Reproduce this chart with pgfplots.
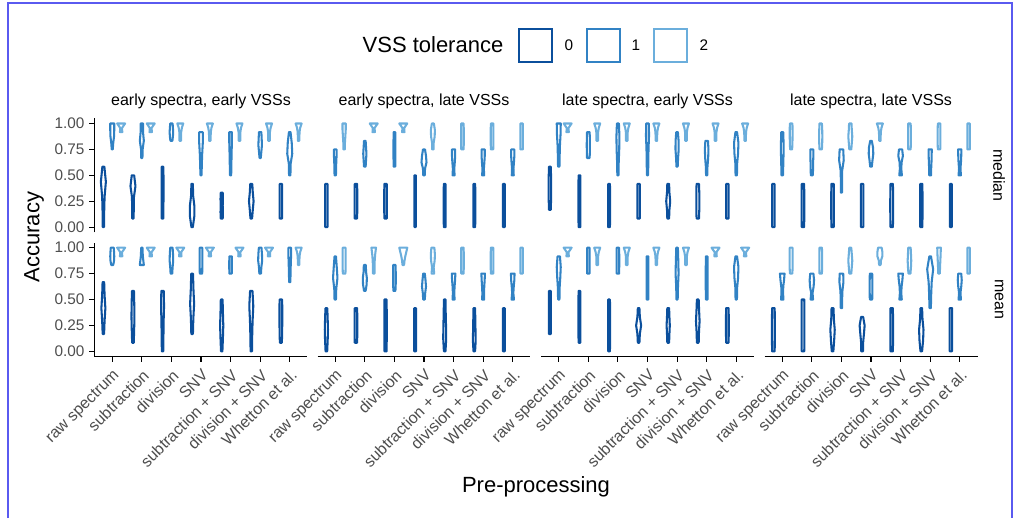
\documentclass[border=0pt]{standalone}
\usepackage{pgfplots}
\pgfplotsset{compat=1.18}
\usepackage{fontspec}
\setmainfont{Liberation Sans}
\definecolor{cz}{HTML}{0B4F9C}
\definecolor{co}{HTML}{3182C4}
\definecolor{ct}{HTML}{6BAEDC}
\definecolor{tickgray}{HTML}{4D4D4D}
\definecolor{framecol}{HTML}{5A5AF0}

\pgfplotsset{
  vio0/.style={draw=cz, fill=white, line width=1.55pt, line join=round, line cap=round},
  vio1/.style={draw=co, fill=white, line width=1.55pt, line join=round, line cap=round},
  vio2/.style={draw=ct, fill=white, line width=1.55pt, line join=round, line cap=round},
  panel/.style={
    scale only axis, width=159.75pt, height=85.5pt,
    anchor=north west,
    xmin=0.4, xmax=7.6, ymin=-0.05, ymax=1.05,
    axis x line*=bottom, axis y line*=left,
    axis line style={line width=0.9pt, black},
    tick align=outside, major tick length=4pt,
    tick style={line width=0.8pt, black},
    xtick={1,2,3,4,5,6,7}, ytick={0,0.25,0.5,0.75,1},
    clip=false,
    /pgf/number format/assume math mode=true,
    tick label style={font=\fontsize{11.5}{13}\selectfont, text=tickgray},
    yticklabel style={/pgf/number format/fixed, /pgf/number format/fixed zerofill, /pgf/number format/precision=2},
  },
  toprow/.style={x axis line style={draw=none}, xtick=\empty},
  bottomrow/.style={xticklabels={raw spectrum, subtraction, division, SNV, subtraction + SNV, division + SNV, Whetton et al.},
    xticklabel style={rotate=45, anchor=north east, font=\fontsize{12}{13}\selectfont}},
  othercol/.style={y axis line style={draw=none}, ytick=\empty},
}

% violin: tolerance, category, ymin, ymax, five half-widths (px) at evenly spaced levels
\newcommand{\vio}[9]{%
  \pgfmathsetmacro\vX{#2+(#1-1)*0.3}%
  \pgfmathsetmacro\vD{(#4-#3)/4}%
  \pgfmathsetmacro\vYa{#3}%
  \pgfmathsetmacro\vYb{#3+\vD}%
  \pgfmathsetmacro\vYc{#3+2*\vD}%
  \pgfmathsetmacro\vYd{#3+3*\vD}%
  \pgfmathsetmacro\vYe{#4}%
  \pgfmathsetmacro\xLa{\vX-#5/29.6}\pgfmathsetmacro\xRa{\vX+#5/29.6}%
  \pgfmathsetmacro\xLb{\vX-#6/29.6}\pgfmathsetmacro\xRb{\vX+#6/29.6}%
  \pgfmathsetmacro\xLc{\vX-#7/29.6}\pgfmathsetmacro\xRc{\vX+#7/29.6}%
  \pgfmathsetmacro\xLd{\vX-#8/29.6}\pgfmathsetmacro\xRd{\vX+#8/29.6}%
  \pgfmathsetmacro\xLe{\vX-#9/29.6}\pgfmathsetmacro\xRe{\vX+#9/29.6}%
  \edef\vtmp{\noexpand\addplot[vio#1] coordinates {(\xLa,\vYa) (\xLb,\vYb) (\xLc,\vYc) (\xLd,\vYd) (\xLe,\vYe) (\xRe,\vYe) (\xRd,\vYd) (\xRc,\vYc) (\xRb,\vYb) (\xRa,\vYa)} -- cycle;}%
  \vtmp}
\newcommand{\Fa}[2]{\vio{#1}{#2}{.917}{1}{1.2}{1.0}{1.0}{2.5}{4.0}}
\newcommand{\Fb}[2]{\vio{#1}{#2}{.833}{1}{0.8}{0.8}{0.9}{1.6}{3.0}}

\def\cA{94.5}\def\cB{317.5}\def\cC{541}\def\cD{764.5}
\def\rA{118.3}\def\rB{242.5}

\begin{document}
\begin{tikzpicture}
\begin{scope}[x=0.75pt,y=-0.75pt]
\useasboundingbox (0,0) rectangle (1016,518);
\draw[framecol, line width=0.8pt] (8,518) -- (8,3) -- (1012,3) -- (1012,518);
\node[anchor=east, font=\fontsize{16.5}{18}\selectfont] at (508,45) {VSS tolerance};
\draw[cz, line width=1.5pt, fill=white] (519,28.5) rectangle (552,61.5);
\draw[co, line width=1.5pt, fill=white] (587,28.5) rectangle (620,61.5);
\draw[ct, line width=1.5pt, fill=white] (654,28.5) rectangle (687,61.5);
\node[font=\fontsize{11.5}{13}\selectfont] at (569,45) {0};
\node[font=\fontsize{11.5}{13}\selectfont] at (636,45) {1};
\node[font=\fontsize{11.5}{13}\selectfont] at (704,45) {2};
\node[font=\fontsize{12}{13}\selectfont] at (201,101) {early spectra, early VSSs};
\node[font=\fontsize{12}{13}\selectfont] at (424,101) {early spectra, late VSSs};
\node[font=\fontsize{12}{13}\selectfont] at (647.5,101) {late spectra, early VSSs};
\node[font=\fontsize{12}{13}\selectfont] at (871,101) {late spectra, late VSSs};
\node[font=\fontsize{12}{13}\selectfont, rotate=-90] at (999,175.4) {median};
\node[font=\fontsize{12}{13}\selectfont, rotate=-90] at (999,299.6) {mean};
\node[font=\fontsize{16.5}{18}\selectfont, rotate=90] at (34,237) {Accuracy};
\node[font=\fontsize{16.5}{18}\selectfont] at (536,487) {Pre-processing};
\end{scope}

% ---------- early spectra, early VSSs : median
\begin{axis}[panel, toprow, at={(\cA*0.75pt,-\rA*0.75pt)}]
\vio{0}{1}{0}{.583}{0.7}{0.8}{1.2}{2.5}{1.0}
\vio{1}{1}{.75}{1}{0.5}{1.0}{1.8}{2.0}{2.0}
\Fa{2}{1}
\vio{0}{2}{.083}{.5}{0.7}{0.8}{1.0}{2.5}{1.2}
\vio{1}{2}{.667}{1}{0.6}{0.8}{2.0}{1.2}{1.2}
\Fa{2}{2}
\vio{0}{3}{.083}{.583}{0.8}{0.9}{1.0}{1.0}{0.8}
\vio{1}{3}{.833}{1}{1.0}{1.5}{1.8}{1.5}{1.2}
\Fb{2}{3}
\vio{0}{4}{0}{.417}{0.7}{2.2}{2.2}{0.9}{0.8}
\vio{1}{4}{.5}{.917}{0.6}{0.8}{1.2}{1.8}{1.8}
\Fb{2}{4}
\vio{0}{5}{.083}{.333}{1.0}{1.2}{1.0}{1.2}{1.0}
\vio{1}{5}{.5}{.917}{0.6}{0.8}{1.0}{1.3}{1.3}
\Fb{2}{5}
\vio{0}{6}{.083}{.417}{0.8}{1.5}{2.3}{1.5}{1.0}
\vio{1}{6}{.667}{.917}{0.6}{1.2}{1.8}{1.5}{1.2}
\Fb{2}{6}
\vio{0}{7}{.083}{.417}{1.2}{1.3}{1.3}{1.3}{1.2}
\vio{1}{7}{.5}{.917}{0.7}{0.8}{2.5}{2.0}{0.8}
\Fb{2}{7}
\end{axis}

% ---------- early spectra, early VSSs : mean
\begin{axis}[panel, bottomrow, at={(\cA*0.75pt,-\rB*0.75pt)}]
\vio{0}{1}{.167}{.667}{0.7}{1.2}{2.0}{1.2}{0.8}
\vio{1}{1}{.833}{1}{1.0}{1.8}{2.0}{1.8}{1.5}
\Fa{2}{1}
\vio{0}{2}{.083}{.583}{0.8}{1.2}{1.5}{1.3}{1.0}
\vio{1}{2}{.833}{1}{2.0}{1.5}{1.0}{0.8}{0.7}
\Fa{2}{2}
\vio{0}{3}{0}{.583}{0.7}{0.9}{1.1}{1.5}{1.2}
\vio{1}{3}{.75}{1}{0.8}{1.2}{1.8}{1.6}{1.2}
\Fa{2}{3}
\vio{0}{4}{.167}{.75}{0.8}{1.2}{2.0}{1.3}{0.9}
\vio{1}{4}{.75}{1}{1.2}{1.3}{1.3}{1.3}{1.3}
\Fa{2}{4}
\vio{0}{5}{0}{.5}{0.7}{1.2}{1.6}{1.2}{0.9}
\vio{1}{5}{.75}{.917}{1.2}{1.3}{1.3}{1.3}{1.2}
\Fa{2}{5}
\vio{0}{6}{0}{.583}{0.7}{0.9}{1.3}{2.0}{1.2}
\vio{1}{6}{.75}{1}{0.8}{1.2}{2.0}{1.8}{1.3}
\Fa{2}{6}
\vio{0}{7}{.083}{.5}{1.0}{1.3}{1.4}{1.4}{1.3}
\vio{1}{7}{.667}{1}{0.6}{0.8}{1.0}{1.3}{1.3}
\Fb{2}{7}
\end{axis}

% ---------- early spectra, late VSSs : median
\begin{axis}[panel, toprow, othercol, at={(\cB*0.75pt,-\rA*0.75pt)}]
\vio{0}{1}{0}{.417}{1.2}{1.3}{1.3}{1.3}{1.2}
\vio{1}{1}{.5}{.75}{0.7}{0.8}{1.0}{1.3}{1.3}
\vio{2}{1}{.75}{1}{0.7}{0.8}{1.2}{1.6}{1.6}
\vio{0}{2}{.083}{.417}{1.2}{1.3}{1.3}{1.3}{1.2}
\vio{1}{2}{.583}{.833}{0.8}{1.2}{1.6}{1.2}{0.8}
\Fa{2}{2}
\vio{0}{3}{.083}{.417}{1.2}{1.3}{1.3}{1.3}{1.2}
\vio{1}{3}{.583}{.917}{0.8}{0.9}{0.9}{0.9}{0.8}
\Fa{2}{3}
\vio{0}{4}{0}{.5}{0.7}{0.8}{0.8}{0.8}{0.7}
\vio{1}{4}{.5}{.75}{0.8}{1.0}{2.5}{2.0}{1.0}
\vio{2}{4}{.75}{1}{0.8}{0.8}{1.8}{2.0}{1.0}
\vio{0}{5}{0}{.417}{0.9}{1.0}{1.0}{1.0}{0.9}
\vio{1}{5}{.5}{.75}{1.0}{0.7}{1.2}{1.6}{1.6}
\vio{2}{5}{.75}{1}{1.2}{1.3}{1.3}{1.3}{1.2}
\vio{0}{6}{0}{.417}{0.9}{1.0}{1.0}{1.0}{0.9}
\vio{1}{6}{.5}{.75}{1.0}{0.7}{1.2}{1.6}{1.6}
\vio{2}{6}{.75}{1}{1.2}{1.3}{1.3}{1.3}{1.2}
\vio{0}{7}{0}{.417}{0.9}{1.0}{1.0}{1.0}{0.9}
\vio{1}{7}{.5}{.75}{1.0}{0.7}{1.2}{1.6}{1.6}
\vio{2}{7}{.75}{1}{1.2}{1.3}{1.3}{1.3}{1.2}
\end{axis}

% ---------- early spectra, late VSSs : mean
\begin{axis}[panel, bottomrow, othercol, at={(\cB*0.75pt,-\rB*0.75pt)}]
\vio{0}{1}{0}{.417}{0.8}{1.3}{1.6}{1.3}{0.9}
\vio{1}{1}{.5}{.917}{0.7}{1.0}{2.2}{1.5}{0.7}
\vio{2}{1}{.75}{1}{1.3}{1.5}{1.5}{1.5}{1.5}
\vio{0}{2}{.083}{.417}{1.2}{1.3}{1.3}{1.3}{1.2}
\vio{1}{2}{.583}{.833}{0.8}{1.8}{2.0}{1.2}{1.0}
\vio{2}{2}{.75}{1}{0.8}{0.8}{1.0}{1.5}{2.3}
\vio{0}{3}{0}{.5}{1.1}{1.2}{1.2}{1.2}{1.1}
\vio{1}{3}{.583}{.833}{1.0}{1.3}{1.3}{1.3}{1.2}
\vio{2}{3}{.833}{1}{0.8}{1.2}{2.0}{3.0}{4.0}
\vio{0}{4}{0}{.417}{0.9}{1.0}{1.0}{1.0}{0.9}
\vio{1}{4}{.5}{.75}{0.8}{1.2}{2.0}{1.5}{0.8}
\vio{2}{4}{.75}{1}{1.3}{0.8}{1.8}{2.0}{1.5}
\vio{0}{5}{0}{.5}{0.8}{1.5}{1.3}{1.0}{0.8}
\vio{1}{5}{.5}{.75}{1.0}{0.7}{1.0}{1.5}{1.8}
\vio{2}{5}{.75}{1}{1.2}{1.3}{1.3}{1.3}{1.2}
\vio{0}{6}{0}{.417}{0.8}{1.4}{1.2}{1.0}{0.8}
\vio{1}{6}{.5}{.75}{1.0}{0.8}{1.1}{1.5}{1.8}
\vio{2}{6}{.75}{1}{1.2}{1.3}{1.3}{1.3}{1.2}
\vio{0}{7}{0}{.417}{0.9}{1.0}{1.0}{1.0}{0.9}
\vio{1}{7}{.5}{.75}{1.2}{0.6}{1.0}{1.6}{1.8}
\vio{2}{7}{.75}{1}{1.2}{1.3}{1.3}{1.3}{1.2}
\end{axis}

% ---------- late spectra, early VSSs : median
\begin{axis}[panel, toprow, othercol, at={(\cC*0.75pt,-\rA*0.75pt)}]
\vio{0}{1}{.167}{.583}{0.9}{1.2}{1.3}{1.2}{0.9}
\vio{1}{1}{.583}{1}{0.7}{0.9}{1.2}{1.8}{2.0}
\Fa{2}{1}
\vio{0}{2}{0}{.5}{0.9}{1.0}{1.0}{1.0}{0.9}
\vio{1}{2}{.667}{.917}{1.3}{1.5}{1.6}{1.5}{1.3}
\Fb{2}{2}
\vio{0}{3}{0}{.417}{0.9}{1.0}{1.0}{1.0}{0.9}
\vio{1}{3}{.5}{1}{0.6}{0.8}{1.3}{1.5}{1.0}
\Fb{2}{3}
\vio{0}{4}{.083}{.417}{1.2}{1.3}{1.3}{1.3}{1.2}
\vio{1}{4}{.5}{1}{0.6}{0.8}{1.0}{1.5}{1.4}
\Fb{2}{4}
\vio{0}{5}{.083}{.417}{0.9}{1.2}{2.0}{1.2}{0.9}
\vio{1}{5}{.583}{.917}{0.6}{1.0}{1.6}{1.5}{0.8}
\Fb{2}{5}
\vio{0}{6}{.083}{.417}{1.2}{1.5}{1.5}{1.5}{1.2}
\vio{1}{6}{.5}{.833}{0.6}{0.8}{1.5}{1.8}{1.3}
\Fb{2}{6}
\vio{0}{7}{.083}{.417}{1.2}{1.3}{1.3}{1.3}{1.2}
\vio{1}{7}{.5}{.917}{0.7}{0.8}{1.8}{2.2}{0.8}
\Fb{2}{7}
\end{axis}

% ---------- late spectra, early VSSs : mean
\begin{axis}[panel, bottomrow, othercol, at={(\cC*0.75pt,-\rB*0.75pt)}]
\vio{0}{1}{.167}{.583}{0.9}{1.0}{1.0}{1.0}{0.9}
\vio{1}{1}{.5}{.917}{0.7}{0.8}{1.5}{2.0}{1.2}
\Fa{2}{1}
\vio{0}{2}{.083}{.583}{0.9}{1.0}{1.0}{1.0}{0.9}
\vio{1}{2}{.75}{1}{1.2}{1.3}{1.3}{1.3}{1.2}
\Fb{2}{2}
\vio{0}{3}{0}{.5}{0.9}{1.0}{1.0}{1.0}{0.9}
\vio{1}{3}{.75}{1}{1.2}{1.3}{1.3}{1.3}{1.2}
\Fb{2}{3}
\vio{0}{4}{.083}{.417}{0.8}{1.2}{2.5}{1.2}{0.8}
\vio{1}{4}{.5}{.917}{0.8}{0.9}{0.9}{0.9}{0.8}
\Fb{2}{4}
\vio{0}{5}{.083}{.417}{0.9}{1.2}{1.6}{1.2}{0.9}
\vio{1}{5}{.5}{1}{0.6}{0.9}{1.5}{1.2}{0.8}
\Fb{2}{5}
\vio{0}{6}{.083}{.5}{0.9}{1.2}{1.8}{1.3}{0.9}
\vio{1}{6}{.5}{.917}{0.8}{0.9}{0.9}{0.9}{0.8}
\Fa{2}{6}
\vio{0}{7}{.083}{.417}{1.2}{1.4}{1.4}{1.4}{1.2}
\vio{1}{7}{.5}{.917}{0.7}{0.8}{1.8}{2.2}{0.8}
\Fa{2}{7}
\end{axis}

% ---------- late spectra, late VSSs : median
\begin{axis}[panel, toprow, othercol, at={(\cD*0.75pt,-\rA*0.75pt)}]
\vio{0}{1}{0}{.417}{1.2}{1.3}{1.3}{1.3}{1.2}
\vio{1}{1}{.5}{.917}{0.8}{1.0}{1.3}{1.3}{1.0}
\vio{2}{1}{.75}{1}{1.0}{1.3}{1.4}{1.4}{1.3}
\vio{0}{2}{0}{.417}{1.2}{1.3}{1.3}{1.3}{1.2}
\vio{1}{2}{.5}{.75}{1.0}{1.2}{1.3}{1.5}{1.5}
\vio{2}{2}{.75}{1}{1.2}{1.5}{1.6}{1.5}{1.2}
\vio{0}{3}{0}{.417}{1.2}{1.3}{1.3}{1.3}{1.2}
\vio{1}{3}{.333}{.75}{0.6}{0.6}{0.7}{2.3}{1.8}
\vio{2}{3}{.75}{1}{1.0}{1.5}{2.0}{1.5}{1.2}
\vio{0}{4}{0}{.417}{1.2}{1.3}{1.3}{1.3}{1.2}
\vio{1}{4}{.583}{.833}{0.8}{1.5}{2.3}{2.0}{0.8}
\Fb{2}{4}
\vio{0}{5}{0}{.417}{1.2}{1.4}{1.5}{1.4}{1.2}
\vio{1}{5}{.5}{.75}{1.3}{0.7}{1.0}{2.3}{1.6}
\vio{2}{5}{.75}{1}{1.2}{1.4}{1.4}{1.4}{1.2}
\vio{0}{6}{0}{.417}{1.1}{1.2}{1.2}{1.2}{1.1}
\vio{1}{6}{.5}{.75}{1.0}{1.0}{1.3}{1.5}{1.6}
\vio{2}{6}{.75}{1}{1.2}{1.4}{1.4}{1.4}{1.2}
\vio{0}{7}{0}{.417}{0.9}{1.0}{1.0}{1.0}{0.9}
\vio{1}{7}{.5}{.75}{1.2}{0.7}{1.2}{1.5}{1.6}
\vio{2}{7}{.75}{1}{1.2}{1.3}{1.3}{1.3}{1.2}
\end{axis}

% ---------- late spectra, late VSSs : mean
\begin{axis}[panel, bottomrow, othercol, at={(\cD*0.75pt,-\rB*0.75pt)}]
\vio{0}{1}{0}{.417}{1.3}{1.4}{1.4}{1.4}{1.3}
\vio{1}{1}{.5}{.75}{1.2}{0.8}{1.0}{1.8}{2.3}
\vio{2}{1}{.75}{1}{1.2}{1.5}{1.5}{1.5}{1.5}
\vio{0}{2}{0}{.5}{1.3}{1.4}{1.4}{1.4}{1.3}
\vio{1}{2}{.5}{.75}{1.2}{0.7}{1.8}{2.2}{1.6}
\vio{2}{2}{.75}{1}{1.2}{1.4}{1.4}{1.4}{1.2}
\vio{0}{3}{0}{.417}{0.8}{1.6}{2.2}{1.3}{1.0}
\vio{1}{3}{.417}{.75}{0.7}{0.7}{1.0}{2.0}{1.8}
\vio{2}{3}{.75}{1}{1.0}{1.5}{2.0}{1.5}{1.0}
\vio{0}{4}{0}{.333}{0.9}{1.0}{1.8}{2.5}{1.0}
\vio{1}{4}{.5}{.75}{1.2}{1.3}{1.3}{1.3}{1.2}
\vio{2}{4}{.833}{1}{0.8}{1.0}{2.5}{2.5}{1.8}
\vio{0}{5}{0}{.417}{1.2}{1.3}{1.3}{1.3}{1.2}
\vio{1}{5}{.5}{.75}{1.2}{0.7}{1.0}{1.8}{2.3}
\vio{2}{5}{.75}{1}{1.0}{1.5}{1.8}{1.5}{1.2}
\vio{0}{6}{0}{.417}{0.8}{1.8}{2.2}{1.2}{0.8}
\vio{1}{6}{.417}{.917}{0.7}{1.0}{1.5}{3.0}{0.8}
\vio{2}{6}{.75}{1}{0.8}{1.0}{1.3}{1.6}{1.8}
\vio{0}{7}{0}{.417}{1.2}{1.3}{1.3}{1.3}{1.2}
\vio{1}{7}{.5}{.75}{1.2}{0.7}{1.5}{2.0}{1.5}
\vio{2}{7}{.75}{1}{1.2}{1.3}{1.3}{1.3}{1.2}
\end{axis}
\end{tikzpicture}
\end{document}
